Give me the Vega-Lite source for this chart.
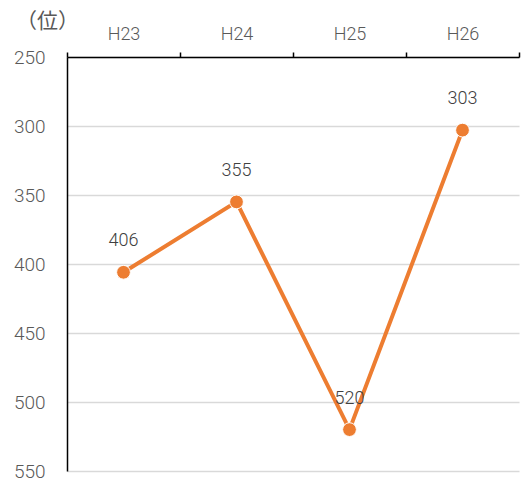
{
  "$schema": "https://vega.github.io/schema/vega-lite/v6.json",
  "autosize": "none",
  "width": 452,
  "height": 414,
  "padding": {"left": 67, "top": 57, "right": 8, "bottom": 11},
  "background": "white",
  "config": {"view": {"stroke": null}, "font": "Roboto"},
  "data": {"values": [
    {"year": "H23", "rank": 406},
    {"year": "H24", "rank": 355},
    {"year": "H25", "rank": 520},
    {"year": "H26", "rank": 303}
  ]},
  "encoding": {
    "x": {"field": "year", "type": "nominal", "sort": null,
      "scale": {"paddingInner": 0, "paddingOuter": 0},
      "axis": {"orient": "top", "title": null, "labelAngle": 0, "domainColor": "#000000", "domainWidth": 1.5,
        "tickColor": "#000000", "tickWidth": 1.5, "tickSize": 5, "tickBand": "extent",
        "labelPadding": 9, "labelFontSize": 18, "labelFontWeight": 300, "labelColor": "#595959", "labelFont": "Roboto", "grid": false}},
    "y": {"field": "rank", "type": "quantitative",
      "scale": {"domain": [250, 550], "reverse": true, "nice": false, "zero": false},
      "axis": {"values": [250, 300, 350, 400, 450, 500, 550], "ticks": false, "domainColor": "#000000", "domainWidth": 1.5,
        "gridColor": "#d9d9d9", "gridWidth": 1.3, "labelFontSize": 19, "labelFontWeight": 300, "labelColor": "#595959", "labelPadding": 22,
        "title": "（位）", "titleAngle": 0, "titleX": -20, "titleY": -36, "titleAlign": "center", "titleBaseline": "middle",
        "titleFont": "Noto Sans CJK JP", "titleFontWeight": "normal", "titleFontSize": 21, "titleColor": "#595959"}}
  },
  "layer": [
    {"mark": {"type": "line", "color": "#ED7D31", "strokeWidth": 4}},
    {"mark": {"type": "point", "filled": true, "color": "#ED7D31", "size": 190, "opacity": 1, "stroke": "#ffffff", "strokeWidth": 1}},
    {"mark": {"type": "text", "dy": -31, "fontSize": 18, "fontWeight": 300, "color": "#404040", "font": "Roboto"},
      "encoding": {"text": {"field": "rank", "type": "quantitative"}}}
  ]
}
